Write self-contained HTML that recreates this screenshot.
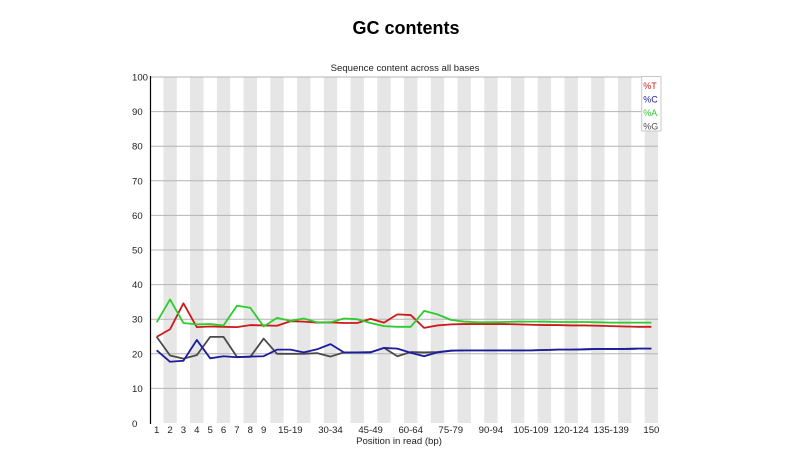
<!DOCTYPE html>
<html>
<head>
<meta charset="utf-8">
<style>
  html,body{margin:0;padding:0;background:#fff;}
  svg{display:block;}
  text{font-family:"Liberation Sans",Arial,sans-serif;}
</style>
</head>
<body>
<svg width="800" height="460" viewBox="0 0 800 460" xmlns="http://www.w3.org/2000/svg">
  <rect x="0" y="0" width="800" height="460" fill="#fff"/>
  <!-- Title -->
  <text x="406" y="34" font-size="18" font-weight="bold" text-anchor="middle" fill="#000">GC contents</text>
  <text x="405" y="71" font-size="9.6" text-anchor="middle" fill="#222">Sequence content across all bases</text>

  <!-- gray bands (even columns) -->
  <g fill="#e6e6e6">
    <rect x="163.37" y="77" width="13.37" height="346"/>
    <rect x="190.11" y="77" width="13.37" height="346"/>
    <rect x="216.85" y="77" width="13.37" height="346"/>
    <rect x="243.59" y="77" width="13.37" height="346"/>
    <rect x="270.33" y="77" width="13.37" height="346"/>
    <rect x="297.07" y="77" width="13.37" height="346"/>
    <rect x="323.81" y="77" width="13.37" height="346"/>
    <rect x="350.55" y="77" width="13.37" height="346"/>
    <rect x="377.29" y="77" width="13.37" height="346"/>
    <rect x="404.03" y="77" width="13.37" height="346"/>
    <rect x="430.77" y="77" width="13.37" height="346"/>
    <rect x="457.51" y="77" width="13.37" height="346"/>
    <rect x="484.25" y="77" width="13.37" height="346"/>
    <rect x="510.99" y="77" width="13.37" height="346"/>
    <rect x="537.73" y="77" width="13.37" height="346"/>
    <rect x="564.47" y="77" width="13.37" height="346"/>
    <rect x="591.21" y="77" width="13.37" height="346"/>
    <rect x="617.95" y="77" width="13.37" height="346"/>
    <rect x="644.69" y="77" width="13.37" height="346"/>
  </g>

  <!-- horizontal gridlines -->
  <g stroke="#b4b4b4" stroke-width="1">
    <line x1="150" y1="77" x2="658" y2="77"/>
    <line x1="150" y1="111.6" x2="658" y2="111.6"/>
    <line x1="150" y1="146.2" x2="658" y2="146.2"/>
    <line x1="150" y1="180.8" x2="658" y2="180.8"/>
    <line x1="150" y1="215.4" x2="658" y2="215.4"/>
    <line x1="150" y1="250" x2="658" y2="250"/>
    <line x1="150" y1="284.6" x2="658" y2="284.6"/>
    <line x1="150" y1="319.2" x2="658" y2="319.2"/>
    <line x1="150" y1="353.8" x2="658" y2="353.8"/>
    <line x1="150" y1="388.4" x2="658" y2="388.4"/>
  </g>

  <!-- y axis -->
  <line x1="150.5" y1="76" x2="150.5" y2="424" stroke="#000" stroke-width="1.2"/>

  <!-- y labels -->
  <g font-size="9.6" fill="#222">
    <text x="132" y="80.5">100</text>
    <text x="132" y="115.1">90</text>
    <text x="132" y="149.7">80</text>
    <text x="132" y="184.3">70</text>
    <text x="132" y="218.9">60</text>
    <text x="132" y="253.5">50</text>
    <text x="132" y="288.1">40</text>
    <text x="132" y="322.7">30</text>
    <text x="132" y="357.3">20</text>
    <text x="132" y="391.9">10</text>
    <text x="132" y="427">0</text>
  </g>

  <!-- x labels -->
  <g font-size="9.6" fill="#222" text-anchor="middle">
    <text x="156.69" y="433">1</text>
    <text x="170.06" y="433">2</text>
    <text x="183.43" y="433">3</text>
    <text x="196.80" y="433">4</text>
    <text x="210.17" y="433">5</text>
    <text x="223.54" y="433">6</text>
    <text x="236.91" y="433">7</text>
    <text x="250.28" y="433">8</text>
    <text x="263.65" y="433">9</text>
    <text x="290.39" y="433">15-19</text>
    <text x="330.50" y="433">30-34</text>
    <text x="370.61" y="433">45-49</text>
    <text x="410.72" y="433">60-64</text>
    <text x="450.83" y="433">75-79</text>
    <text x="490.94" y="433">90-94</text>
    <text x="531.05" y="433">105-109</text>
    <text x="571.16" y="433">120-124</text>
    <text x="611.27" y="433">135-139</text>
    <text x="651.38" y="433">150</text>
  </g>
  <text x="399" y="444" font-size="9.6" fill="#222" text-anchor="middle">Position in read (bp)</text>

  <!-- series -->
  <g fill="none" stroke-width="1.8" stroke-linejoin="round">
    <!-- G -->
    <polyline stroke="#4a4a4a" points="156.69,336.85 170.06,355.53 183.43,358.64 196.80,355.18 210.17,336.85 223.54,336.85 236.91,356.91 250.28,356.91 263.65,338.58 277.02,353.8 290.39,353.8 303.76,353.8 317.13,353.11 330.50,356.57 343.87,352.42 357.24,352.42 370.61,352.07 383.98,347.92 397.35,356.22 410.72,352.07 424.09,352.42 437.46,352.07 450.83,350.69 464.20,350.34 477.57,350.34 490.94,350.34 504.31,350.34 517.68,350.34 531.05,350.34 544.42,350.0 557.79,349.65 571.16,349.65 584.53,349.30 597.90,348.96 611.27,348.96 624.64,348.96 638.01,348.61 651.38,348.61"/>
    <!-- T -->
    <polyline stroke="#cc1a1a" points="156.69,336.85 170.06,329.23 183.43,303.28 196.80,327.16 210.17,326.47 223.54,326.81 236.91,327.16 250.28,325.08 263.65,325.43 277.02,325.77 290.39,321.28 303.76,321.62 317.13,322.66 330.50,322.31 343.87,323.01 357.24,323.01 370.61,318.85 383.98,322.66 397.35,314.36 410.72,315.05 424.09,327.85 437.46,325.43 450.83,324.39 464.20,324.04 477.57,324.04 490.94,324.04 504.31,324.04 517.68,324.39 531.05,324.74 544.42,325.08 557.79,325.08 571.16,325.43 584.53,325.43 597.90,325.77 611.27,326.12 624.64,326.47 638.01,326.81 651.38,326.81"/>
    <!-- A -->
    <polyline stroke="#2ccc2c" points="156.69,322.31 170.06,299.48 183.43,323.01 196.80,324.39 210.17,324.04 223.54,325.43 236.91,305.71 250.28,307.78 263.65,326.47 277.02,317.82 290.39,320.93 303.76,318.51 317.13,322.31 330.50,322.31 343.87,318.51 357.24,319.2 370.61,323.01 383.98,326.12 397.35,326.81 410.72,326.81 424.09,310.9 437.46,314.36 450.83,319.89 464.20,321.62 477.57,322.31 490.94,322.31 504.31,321.97 517.68,321.62 531.05,321.62 544.42,321.62 557.79,321.97 571.16,321.97 584.53,321.97 597.90,322.31 611.27,322.66 624.64,322.66 638.01,322.66 651.38,322.66"/>
    <!-- C -->
    <polyline stroke="#1c1ca0" points="156.69,350.34 170.06,361.76 183.43,360.72 196.80,339.96 210.17,358.30 223.54,356.22 236.91,357.26 250.28,356.57 263.65,356.22 277.02,349.65 290.39,349.65 303.76,352.42 317.13,349.30 330.50,344.11 343.87,352.42 357.24,352.42 370.61,352.42 383.98,347.92 397.35,348.61 410.72,352.76 424.09,356.22 437.46,352.42 450.83,350.69 464.20,350.34 477.57,350.34 490.94,350.34 504.31,350.34 517.68,350.34 531.05,350.34 544.42,350.0 557.79,349.65 571.16,349.65 584.53,349.30 597.90,348.96 611.27,348.96 624.64,348.96 638.01,348.61 651.38,348.61"/>
  </g>

  <!-- legend -->
  <rect x="641.7" y="76.5" width="19.3" height="54.5" fill="#fff" stroke="#c8c8c8" stroke-width="1"/>
  <g font-size="9" >
    <text x="643.3" y="89" fill="#cc1a1a">%T</text>
    <text x="643.3" y="102.5" fill="#1c1ca0">%C</text>
    <text x="643.3" y="116" fill="#2ccc2c">%A</text>
    <text x="643.3" y="129.5" fill="#4a4a4a">%G</text>
  </g>
</svg>
</body>
</html>
